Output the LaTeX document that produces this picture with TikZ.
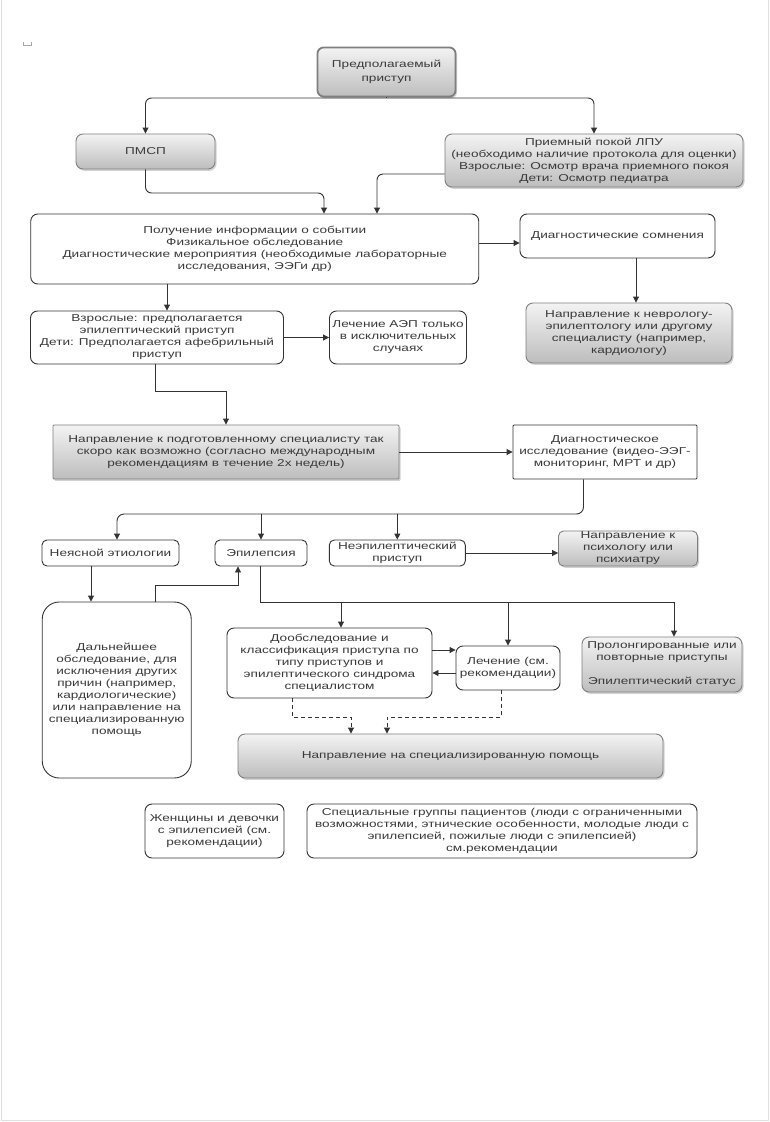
\documentclass[tikz,border=0pt]{standalone}
\usepackage{fontspec}
\setmainfont{Liberation Sans}[FakeStretch=1.36]
\usetikzlibrary{arrows.meta,shadows}
\definecolor{ln}{HTML}{333333}
\definecolor{txt}{HTML}{3A3A3A}
\definecolor{gborder}{HTML}{7F7F7F}
\definecolor{gtop}{HTML}{F3F3F3}
\definecolor{gbot}{HTML}{BDBDBD}
\begin{document}
\begin{tikzpicture}[x=1pt,y=-1pt,
  every node/.style={text=txt},
  box/.style={draw=ln, line width=0.9pt, rounded corners=7pt, fill=white,
    align=center, inner sep=0pt, font=\fontsize{10}{12}\selectfont},
  sharpbox/.style={box, rounded corners=1pt},
  graybox/.style={box, draw=gborder, top color=gtop, bottom color=gbot,
    drop shadow={opacity=0.35, shadow xshift=1.5pt, shadow yshift=-1.8pt}},
  topbox/.style={graybox, line width=1.8pt, draw=gborder, rounded corners=6pt,
    font=\fontsize{10}{14.5}\selectfont},
  line/.style={draw=ln, line width=0.9pt},
  arr/.style={line, -{Triangle[length=6pt,width=6pt]}},
  dash/.style={}, 
  dsh/.style={arr, dash pattern=on 4pt off 3pt}
]
\useasboundingbox (0,0) rectangle (770,1122);
\fill[white] (0,0) rectangle (770,1122);
\draw[gray!25, line width=0.8pt] (1.5,0) -- (1.5,1120.5) -- (768.5,1120.5) -- (768.5,0);
\draw[gray!70, line width=0.8pt] (23,42) -- (23,45.5) -- (31,45.5) -- (31,42);

% nodes
\node[topbox, minimum width=138pt, minimum height=49pt] (top) at (386.5,72) {Предполагаемый\\приступ};
\node[graybox, minimum width=139pt, minimum height=35pt] (pmsp) at (145.5,151.5) {ПМСП};
\node[graybox, minimum width=298pt, minimum height=53pt] (priem) at (594,160.5)
  {Приемный покой ЛПУ\\(необходимо наличие протокола для оценки)\\Взрослые: Осмотр врача приемного покоя\\Дети: Осмотр педиатра};
\node[box, minimum width=448pt, minimum height=70pt] (info) at (254.75,249)
  {Получение информации о событии\\Физикальное обследование\\Диагностические мероприятия (необходимые лабораторные\\исследования, ЭЭГи др)};
\node[box, minimum width=195pt, minimum height=44pt] (doubt) at (617.5,236) {Диагностические сомнения};
\node[graybox, minimum width=206pt, minimum height=60pt] (neuro) at (629,333)
  {Направление к неврологу-\\эпилептологу или другому\\специалисту (например,\\кардиологу)};
\node[box, minimum width=253pt, minimum height=53pt] (adults) at (157,337.5)
  {Взрослые: предполагается\\эпилептический приступ\\Дети: Предполагается афебрильный\\приступ};
\node[box, minimum width=137pt, minimum height=53pt] (aed) at (398,337.5)
  {Лечение АЭП только\\в исключительных\\случаях};
\node[graybox, rounded corners=1pt, minimum width=346pt, minimum height=54pt] (napr) at (226,452)
  {Направление к подготовленному специалисту так\\скоро как возможно (согласно международным\\рекомендациям в течение 2х недель)};
\node[sharpbox, minimum width=184pt, minimum height=54pt] (diag) at (605,452)
  {Диагностическое\\исследование (видео-ЭЭГ-\\мониторинг, МРТ и др)};
\node[box, rounded corners=5pt, minimum width=137pt, minimum height=26pt] (ney) at (110.5,553) {Неясной этиологии};
\node[box, rounded corners=5pt, minimum width=92pt, minimum height=26pt] (epi) at (261,553) {Эпилепсия};
\node[box, rounded corners=5pt, minimum width=136pt, minimum height=26pt] (nonepi) at (397.3,553) {Неэпилептический\\приступ};
\node[graybox, rounded corners=5pt, minimum width=139pt, minimum height=35pt] (psych) at (628,548.5)
  {Направление к\\психологу или\\психиатру};
\node[box, rounded corners=17pt, minimum width=149pt, minimum height=176pt] (further) at (116.75,690)
  {Дальнейшее\\обследование, для\\исключения других\\причин (например,\\кардиологические)\\или направление на\\специализированную\\помощь};
\node[box, minimum width=205pt, minimum height=70pt] (doob) at (329.5,663)
  {Дообследование и\\классификация приступа по\\типу приступов и\\эпилептического синдрома\\специалистом};
\node[box, minimum width=104pt, minimum height=44pt] (lech) at (508,668)
  {Лечение (см.\\рекомендации)};
\node[graybox, minimum width=160pt, minimum height=55pt] (prolong) at (662,664.5)
  {Пролонгированные или\\повторные приступы\\[12pt]Эпилептический статус};
\node[graybox, minimum width=425pt, minimum height=44pt] (help) at (450.5,756)
  {Направление на специализированную помощь};
\node[box, minimum width=139pt, minimum height=54pt] (women) at (214.5,831)
  {Женщины и девочки\\с эпилепсией (см.\\рекомендации)};
\node[box, minimum width=390pt, minimum height=54pt] (special) at (502,831)
  {Специальные группы пациентов (люди с ограниченными\\возможностями, этнические особенности, молодые люди с\\эпилепсией, пожилые люди с эпилепсией)\\см.рекомендации};

% connectors
\coordinate (j1) at (386.5,98);
\draw[line] (top.south) -- (j1);
\draw[arr, rounded corners=6pt] (j1) -| (pmsp.north);
\draw[arr, rounded corners=6pt] (j1) -| (priem.north);

\coordinate (c1) at (324,193);
\draw[arr, rounded corners=6pt] (pmsp.south) |- (c1) -- (c1 |- info.north);
\coordinate (c2) at (377,174);
\draw[arr, rounded corners=6pt] (priem.west |- c2) -| (c2 |- info.north);

\coordinate (c3) at (0,243);
\draw[arr] (info.east |- c3) -- (doubt.west |- c3);
\coordinate (c4) at (636,0);
\draw[arr] (doubt.south -| c4) -- (neuro.north -| c4);

\coordinate (c5) at (167,0);
\draw[arr] (info.south -| c5) -- (adults.north -| c5);
\coordinate (c6) at (0,337.5);
\draw[arr] (adults.east |- c6) -- (aed.west |- c6);
\coordinate (c7) at (155,391);
\draw[arr] (adults.south -| c7) -- (c7) -| (napr.north);

\draw[arr] (napr.east) -- (diag.west);
\coordinate (c8) at (583.5,514);
\coordinate (c9) at (117,0);
\draw[arr, rounded corners=7pt] (diag.south -| c8) -- (c8) -| (ney.north -| c9);
\draw[arr] (epi.north |- c8) -- (epi.north);
\draw[arr] (nonepi.north |- c8) -- (nonepi.north);
\draw[arr] (nonepi.east) -- (psych.west |- nonepi.east);

\coordinate (c10) at (91,0);
\draw[arr] (ney.south -| c10) -- (further.north -| c10);
\coordinate (c11) at (155,585);
\coordinate (c12) at (238,585);
\draw[arr] (further.north -| c11) -- (c11) -- (c12) -- (epi.south -| c12);

\coordinate (c13) at (260,602);
\coordinate (c14) at (674,602);
\draw[line] (epi.south -| c13) -- (c13) -- (c14);
\coordinate (c15) at (341,602);
\coordinate (c16) at (508,602);
\draw[arr] (c15) -- (doob.north -| c15);
\draw[arr] (c16) -- (lech.north -| c16);
\draw[arr] (c14) -- (prolong.north -| c14);

\coordinate (c17) at (0,650);
\coordinate (c18) at (0,673);
\draw[arr] (doob.east |- c17) -- (lech.west |- c17);
\draw[arr] (lech.west |- c18) -- (doob.east |- c18);

\coordinate (d1) at (292,717);
\coordinate (d2) at (351,717);
\coordinate (d3) at (501,717);
\coordinate (d4) at (387,717);
\draw[dsh] (doob.south -| d1) -- (d1) -- (d2) -- (help.north -| d2);
\draw[dsh] (lech.south -| d3) -- (d3) -- (d4) -- (help.north -| d4);
\end{tikzpicture}
\end{document}
